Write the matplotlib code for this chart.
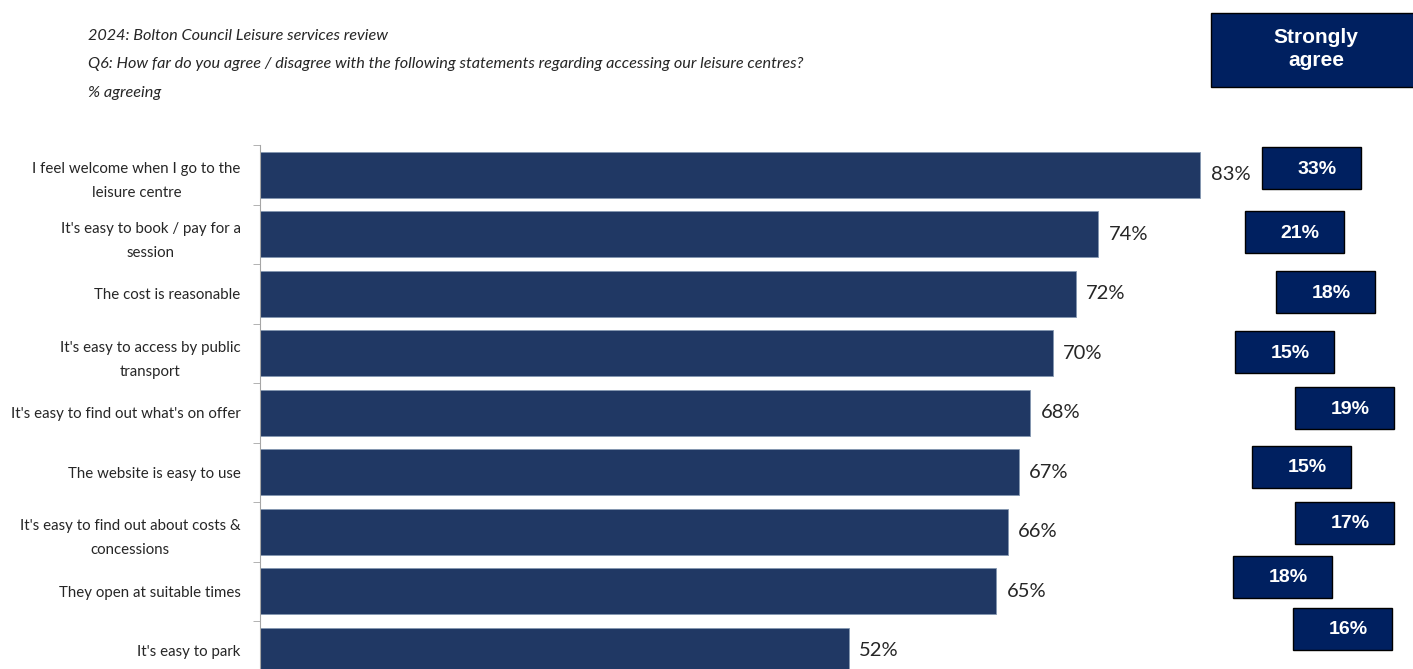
import matplotlib.pyplot as plt
from matplotlib.patches import Rectangle
from matplotlib import font_manager

# fonts: narrow-ish sans for the Calibri look, Arial-like for the boxes
names = {f.name for f in font_manager.fontManager.ttflist}
narrow = 'Liberation Sans Narrow' if 'Liberation Sans Narrow' in names else 'Lato'
plt.rcParams['font.family'] = [narrow, 'DejaVu Sans']

# Data
statements = [
    "I feel welcome when I go to the\nleisure centre",
    "It's easy to book / pay for a\nsession",
    "The cost is reasonable",
    "It's easy to access by public\ntransport",
    "It's easy to find out what's on offer",
    "The website is easy to use",
    "It's easy to find out about costs &\nconcessions",
    "They open at suitable times",
    "It's easy to park",
]
agree = [83, 74, 72, 70, 68, 67, 66, 65, 52]
strongly_agree = [33, 21, 18, 15, 19, 15, 17, 18, 16]

bar_color = '#203864'
box_color = '#002060'
text_color = '#262626'

W, H = 1413, 669
fig = plt.figure(figsize=(W / 100, H / 100), dpi=100)

# main axes in pixel terms: left 260, top 145, 59.5 px per row, 11.33 px per %
pitch = 59.5
px_per_pct = 11.33
ax_left, ax_top = 260, 145
ax_h = pitch * len(agree)
ax_w = 100 * px_per_pct
ax = fig.add_axes([ax_left / W, 1 - (ax_top + ax_h) / H, ax_w / W, ax_h / H])

y = list(range(len(agree)))
ax.barh(y, agree, height=0.77, color=bar_color, edgecolor='#8497b0', linewidth=0.6)
ax.set_ylim(len(agree) - 0.5, -0.5)
ax.set_xlim(0, 100)

for yi, v in zip(y, agree):
    ax.text(v + 0.9, yi, f"{v}%", va='center', ha='left', fontsize=14.5, color=text_color)

ax.set_yticks(y)
ax.set_yticklabels(statements, fontsize=10.8, color=text_color, linespacing=1.9,
                   multialignment='center')
ax.set_yticks([i - 0.5 for i in range(len(agree) + 1)], minor=True)
ax.tick_params(axis='y', which='major', length=0, pad=14)
ax.tick_params(axis='y', which='minor', length=5, color='#a6a6a6', direction='out')
ax.set_xticks([])
for s in ['top', 'right', 'bottom']:
    ax.spines[s].set_visible(False)
ax.spines['left'].set_color('#a6a6a6')

# overlay in image pixel coordinates for title and the "Strongly agree" boxes
ov = fig.add_axes([0, 0, 1, 1])
ov.set_xlim(0, W)
ov.set_ylim(H, 0)
ov.axis('off')

title_lines = [
    "2024: Bolton Council Leisure services review",
    "Q6: How far do you agree / disagree with the following statements regarding accessing our leisure centres?",
    "% agreeing",
]
for ty, line in zip([36, 64, 93], title_lines):
    ov.text(88, ty, line, style='italic', fontsize=11.7, va='center', color=text_color)

ov.add_patch(Rectangle((1211, 13), 210, 74, facecolor=box_color, edgecolor='black', lw=1))
ov.text(1316, 49, "Strongly\nagree", ha='center', va='center', color='white',
        fontsize=15, fontweight='bold', family='Liberation Sans', linespacing=1.25)

box_left = [1262, 1245, 1276, 1235, 1295, 1252, 1295, 1233, 1293]
box_top = [147, 211, 271, 331, 387, 446, 502, 556, 608]
for bx, by, v in zip(box_left, box_top, strongly_agree):
    ov.add_patch(Rectangle((bx, by), 99, 42, facecolor=box_color, edgecolor='black', lw=1))
    ov.text(bx + 55, by + 22, f"{v}%", ha='center', va='center', color='white',
            fontsize=14, fontweight='bold', family='Liberation Sans')

fig.savefig('out.png', dpi=100, facecolor='white')
